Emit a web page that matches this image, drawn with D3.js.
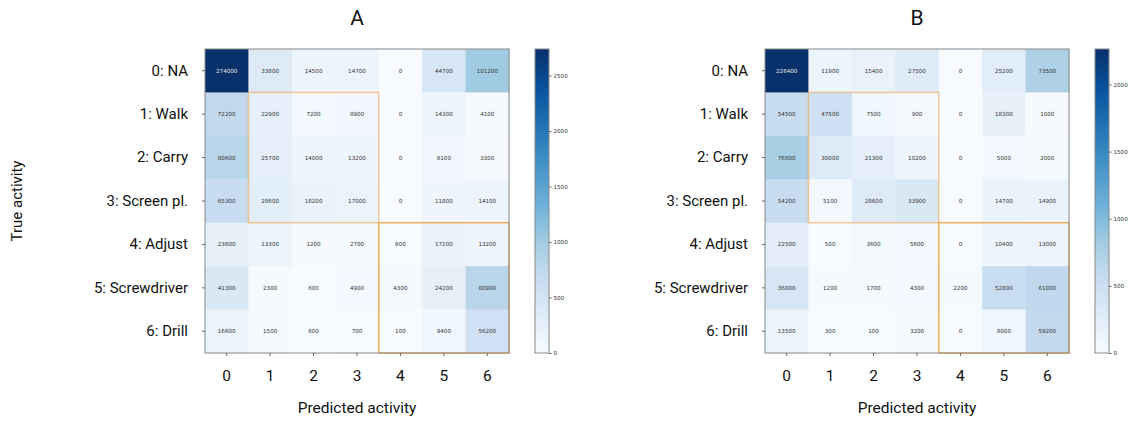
<!DOCTYPE html>
<html>
<head>
<meta charset="utf-8">
<script src="https://cdn.jsdelivr.net/npm/d3@7"></script>
<style>
  html, body { margin: 0; padding: 0; background: #fff; }
  svg { display: block; }
</style>
</head>
<body>
<svg id="chart" width="1128" height="424"></svg>
<script>
// Activity classes (rows = true, columns = predicted)
const activities = ["0: NA", "1: Walk", "2: Carry", "3: Screen pl.", "4: Adjust", "5: Screwdriver", "6: Drill"];
const predictedTicks = ["0", "1", "2", "3", "4", "5", "6"];
const panelTitles = ["A", "B"];

// Confusion counts, panel A
const matrixA = [
  [274000, 33800, 14500, 14700, 0, 44700, 101200],
  [72200, 22900, 7200, 8900, 0, 14300, 4100],
  [80600, 25700, 14000, 13200, 0, 8100, 3300],
  [65300, 28600, 18200, 17000, 0, 11800, 14100],
  [23600, 13300, 1200, 2700, 800, 17200, 13200],
  [41300, 2300, 600, 4900, 4300, 24200, 80900],
  [16600, 1500, 600, 700, 100, 9400, 56200]
];

// Confusion counts, panel B
const matrixB = [
  [226400, 11900, 15400, 27500, 0, 25200, 73500],
  [54500, 47500, 7500, 900, 0, 18300, 1000],
  [76800, 30000, 21300, 10200, 0, 5000, 2000],
  [54200, 5100, 28600, 33900, 0, 14700, 14900],
  [22500, 500, 3600, 5600, 0, 10400, 13000],
  [36800, 1200, 1700, 4300, 2200, 52800, 61000],
  [13500, 300, 100, 3200, 0, 8000, 59200]
];

// Colorbar ticks (counts in hundreds)
const colorbarTicksA = [0, 500, 1000, 1500, 2000, 2500];
const colorbarTicksB = [0, 500, 1000, 1500, 2000];

// Highlighted groups: [first index, last index] on both axes
const groups = [
  { from: 1, to: 3, opacity: 0.55 },
  { from: 4, to: 6, opacity: 0.85 }
];

const svg = d3.select("#chart");
const fontLabel = "Roboto, 'Noto Sans', sans-serif";
const fontSmall = "'DejaVu Sans', sans-serif";

const blues = d3.schemeBlues[9];

function drawPanel(data, title, cbTicks, left) {
  const top = 49, size = 304;
  const n = activities.length;
  const g = svg.append("g");

  const x = d3.scaleBand().domain(d3.range(n)).range([left, left + size]);
  const y = d3.scaleBand().domain(d3.range(n)).range([top, top + size]);

  const vmax = d3.max(data.flat()) / 100;
  const color = d3.scaleLinear()
    .domain(blues.map((_, i) => vmax * i / (blues.length - 1)))
    .range(blues)
    .clamp(true);

  const cells = data.flatMap((row, r) => row.map((v, c) => ({ r, c, v })));

  g.selectAll("rect.cell").data(cells).join("rect")
    .attr("class", "cell")
    .attr("x", d => x(d.c))
    .attr("y", d => y(d.r))
    .attr("width", x.bandwidth() + 0.5)
    .attr("height", y.bandwidth() + 0.5)
    .attr("fill", d => color(d.v / 100));

  g.selectAll("text.val").data(cells).join("text")
    .attr("class", "val")
    .attr("x", d => x(d.c) + x.bandwidth() / 2)
    .attr("y", d => y(d.r) + y.bandwidth() / 2)
    .attr("dy", "0.35em")
    .attr("text-anchor", "middle")
    .attr("font-family", fontSmall)
    .attr("font-size", 5.6)
    .attr("fill", d => d.v / 100 > vmax * 0.6 ? "#e8e8e8" : "#333")
    .text(d => d.v);

  // group outlines
  groups.forEach(gr => {
    g.append("rect")
      .attr("x", x(gr.from))
      .attr("y", y(gr.from))
      .attr("width", x(gr.to) + x.bandwidth() - x(gr.from))
      .attr("height", y(gr.to) + y.bandwidth() - y(gr.from))
      .attr("fill", "none")
      .attr("stroke", "#f0a040")
      .attr("stroke-opacity", gr.opacity)
      .attr("stroke-width", 1.5);
  });

  // frame
  g.append("rect")
    .attr("x", left).attr("y", top).attr("width", size).attr("height", size)
    .attr("fill", "none").attr("stroke", "#888").attr("stroke-width", 1);

  // y axis
  const yAxis = g.append("g").attr("transform", `translate(${left},0)`)
    .call(d3.axisLeft(y).tickSize(3).tickPadding(14).tickFormat(i => activities[i]));
  yAxis.select(".domain").remove();
  yAxis.selectAll(".tick line").attr("stroke", "#666");
  yAxis.selectAll("text").attr("font-family", fontLabel).attr("font-size", 15).attr("fill", "#111");

  // x axis
  const xAxis = g.append("g").attr("transform", `translate(0,${top + size})`)
    .call(d3.axisBottom(x).tickSize(3).tickPadding(14).tickFormat(i => predictedTicks[i]));
  xAxis.select(".domain").remove();
  xAxis.selectAll(".tick line").attr("stroke", "#666");
  xAxis.selectAll("text").attr("font-family", fontLabel).attr("font-size", 15.5).attr("fill", "#111");

  g.append("text")
    .attr("x", left + size / 2).attr("y", 413)
    .attr("text-anchor", "middle")
    .attr("font-family", fontLabel).attr("font-size", 15.5).attr("fill", "#111")
    .text("Predicted activity");

  g.append("text")
    .attr("x", left + size / 2).attr("y", 25)
    .attr("text-anchor", "middle")
    .attr("font-family", fontLabel).attr("font-size", 21).attr("fill", "#111")
    .text(title);

  // colorbar
  const cbx = left + size + 26, cbw = 14;
  const cy = d3.scaleLinear().domain([0, vmax]).range([top + size, top]);
  const gradId = "grad" + title;
  const grad = svg.append("defs").append("linearGradient")
    .attr("id", gradId).attr("x1", 0).attr("x2", 0).attr("y1", 1).attr("y2", 0);
  blues.forEach((c, i) => grad.append("stop")
    .attr("offset", i / (blues.length - 1)).attr("stop-color", c));
  g.append("rect")
    .attr("x", cbx).attr("y", top).attr("width", cbw).attr("height", size)
    .attr("fill", `url(#${gradId})`).attr("stroke", "#888").attr("stroke-width", 1);
  const cAxis = g.append("g").attr("transform", `translate(${cbx + cbw},0)`)
    .call(d3.axisRight(cy).tickValues(cbTicks).tickFormat(d3.format("d")).tickSize(2.5).tickPadding(2));
  cAxis.select(".domain").remove();
  cAxis.selectAll(".tick line").attr("stroke", "#666");
  cAxis.selectAll("text").attr("font-family", fontSmall).attr("font-size", 5.6).attr("fill", "#333");
}

drawPanel(matrixA, panelTitles[0], colorbarTicksA, 205);
drawPanel(matrixB, panelTitles[1], colorbarTicksB, 765);

svg.append("text")
  .attr("transform", "translate(22,201) rotate(-90)")
  .attr("text-anchor", "middle")
  .attr("font-family", fontLabel).attr("font-size", 15).attr("fill", "#111")
  .text("True activity");
</script>
</body>
</html>
